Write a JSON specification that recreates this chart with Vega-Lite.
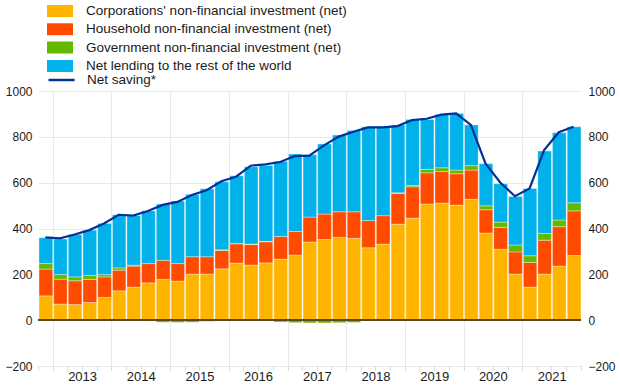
{
  "$schema": "https://vega.github.io/schema/vega-lite/v6.json",
  "width": 543,
  "height": 275,
  "autosize": {"type": "none"},
  "padding": {"left": 38, "top": 91, "right": 39, "bottom": 22},
  "background": "white",
  "config": {
    "font": "Liberation Sans",
    "view": {"stroke": null},
    "axis": {"labelColor": "#1a1a1a", "labelFont": "Liberation Sans"},
    "legend": {"labelFont": "Liberation Sans", "labelColor": "#1a1a1a", "labelLimit": 0}
  },
  "datasets": {
    "d": [
      {"q": "2012-10-01", "a_corp": 106, "b_hh": 117, "c_gov": 24, "d_nl": 113, "ns": 361},
      {"q": "2013-01-01", "a_corp": 70, "b_hh": 109, "c_gov": 20, "d_nl": 155, "ns": 357},
      {"q": "2013-04-01", "a_corp": 68, "b_hh": 104, "c_gov": 17, "d_nl": 185, "ns": 374},
      {"q": "2013-07-01", "a_corp": 77, "b_hh": 101, "c_gov": 17, "d_nl": 198, "ns": 393},
      {"q": "2013-10-01", "a_corp": 99, "b_hh": 90, "c_gov": 10, "d_nl": 223, "ns": 422},
      {"q": "2014-01-01", "a_corp": 128, "b_hh": 90, "c_gov": 10, "d_nl": 232, "ns": 460},
      {"q": "2014-04-01", "a_corp": 144, "b_hh": 92, "c_gov": 4, "d_nl": 216, "ns": 456},
      {"q": "2014-07-01", "a_corp": 163, "b_hh": 84, "c_gov": -4, "d_nl": 230, "ns": 476},
      {"q": "2014-10-01", "a_corp": 178, "b_hh": 83, "c_gov": -9, "d_nl": 246, "ns": 503},
      {"q": "2015-01-01", "a_corp": 170, "b_hh": 77, "c_gov": -10, "d_nl": 273, "ns": 516},
      {"q": "2015-04-01", "a_corp": 201, "b_hh": 76, "c_gov": -9, "d_nl": 272, "ns": 546},
      {"q": "2015-07-01", "a_corp": 201, "b_hh": 76, "c_gov": -5, "d_nl": 296, "ns": 567},
      {"q": "2015-10-01", "a_corp": 224, "b_hh": 80, "c_gov": 3, "d_nl": 297, "ns": 606},
      {"q": "2016-01-01", "a_corp": 249, "b_hh": 84, "c_gov": 2, "d_nl": 295, "ns": 626},
      {"q": "2016-04-01", "a_corp": 240, "b_hh": 90, "c_gov": 2, "d_nl": 338, "ns": 674},
      {"q": "2016-07-01", "a_corp": 250, "b_hh": 92, "c_gov": 2, "d_nl": 331, "ns": 680},
      {"q": "2016-10-01", "a_corp": 266, "b_hh": 99, "c_gov": -8, "d_nl": 328, "ns": 690},
      {"q": "2017-01-01", "a_corp": 284, "b_hh": 103, "c_gov": -11, "d_nl": 338, "ns": 716},
      {"q": "2017-04-01", "a_corp": 341, "b_hh": 109, "c_gov": -12, "d_nl": 272, "ns": 718},
      {"q": "2017-07-01", "a_corp": 352, "b_hh": 111, "c_gov": -12, "d_nl": 306, "ns": 763},
      {"q": "2017-10-01", "a_corp": 361, "b_hh": 112, "c_gov": -11, "d_nl": 335, "ns": 801},
      {"q": "2018-01-01", "a_corp": 357, "b_hh": 116, "c_gov": -10, "d_nl": 355, "ns": 822},
      {"q": "2018-04-01", "a_corp": 316, "b_hh": 119, "c_gov": -3, "d_nl": 409, "ns": 841},
      {"q": "2018-07-01", "a_corp": 332, "b_hh": 124, "c_gov": -3, "d_nl": 388, "ns": 841},
      {"q": "2018-10-01", "a_corp": 419, "b_hh": 134, "c_gov": 3, "d_nl": 296, "ns": 847},
      {"q": "2019-01-01", "a_corp": 445, "b_hh": 137, "c_gov": 6, "d_nl": 288, "ns": 873},
      {"q": "2019-04-01", "a_corp": 507, "b_hh": 136, "c_gov": 15, "d_nl": 218, "ns": 879},
      {"q": "2019-07-01", "a_corp": 511, "b_hh": 138, "c_gov": 16, "d_nl": 233, "ns": 897},
      {"q": "2019-10-01", "a_corp": 502, "b_hh": 137, "c_gov": 16, "d_nl": 247, "ns": 902},
      {"q": "2020-01-01", "a_corp": 527, "b_hh": 128, "c_gov": 19, "d_nl": 178, "ns": 852},
      {"q": "2020-04-01", "a_corp": 380, "b_hh": 102, "c_gov": 17, "d_nl": 184, "ns": 684},
      {"q": "2020-07-01", "a_corp": 309, "b_hh": 96, "c_gov": 23, "d_nl": 167, "ns": 601},
      {"q": "2020-10-01", "a_corp": 201, "b_hh": 97, "c_gov": 30, "d_nl": 212, "ns": 541},
      {"q": "2021-01-01", "a_corp": 144, "b_hh": 108, "c_gov": 29, "d_nl": 294, "ns": 575},
      {"q": "2021-04-01", "a_corp": 201, "b_hh": 148, "c_gov": 29, "d_nl": 360, "ns": 742},
      {"q": "2021-07-01", "a_corp": 236, "b_hh": 172, "c_gov": 29, "d_nl": 381, "ns": 820},
      {"q": "2021-10-01", "a_corp": 282, "b_hh": 195, "c_gov": 35, "d_nl": 332, "ns": 844}
    ]
  },
  "data": {"name": "d"},
  "layer": [
    {
      "transform": [{"fold": ["a_corp", "b_hh", "c_gov", "d_nl"], "as": ["series", "value"]}],
      "mark": {"type": "bar", "stroke": "white", "strokeWidth": 0.8, "strokeOpacity": 0.45},
      "encoding": {
        "x": {
          "field": "q", "type": "temporal", "timeUnit": "utcyearquarter",
          "scale": {"domain": [{"year": 2012, "month": 10, "date": 1, "utc": true}, {"year": 2022, "month": 1, "date": 1, "utc": true}], "nice": false, "padding": 0},
          "axis": {
            "orient": "bottom", "title": null,
            "values": [
              {"year": 2013, "month": 1, "date": 1, "utc": true},
              {"year": 2014, "month": 1, "date": 1, "utc": true},
              {"year": 2015, "month": 1, "date": 1, "utc": true},
              {"year": 2016, "month": 1, "date": 1, "utc": true},
              {"year": 2017, "month": 1, "date": 1, "utc": true},
              {"year": 2018, "month": 1, "date": 1, "utc": true},
              {"year": 2019, "month": 1, "date": 1, "utc": true},
              {"year": 2020, "month": 1, "date": 1, "utc": true},
              {"year": 2021, "month": 1, "date": 1, "utc": true}
            ],
            "format": "%Y", "labelOffset": 29.3, "labelBound": false, "labelOverlap": false, "labelFlush": false,
            "grid": true, "gridColor": "#e9e9e9", "tickColor": "#d9d9d9", "tickSize": 4,
            "domain": false, "labelFontSize": 13, "labelPadding": 0
          }
        },
        "y": {
          "field": "value", "type": "quantitative", "stack": "zero",
          "scale": {"domain": [-200, 1000], "nice": false, "zero": false},
          "axis": {
            "orient": "left", "title": null, "values": [-200, 0, 200, 400, 600, 800, 1000], "format": "d",
            "grid": true, "gridColor": "#e9e9e9", "ticks": false, "domain": false,
            "labelPadding": 6, "labelFontSize": 12
          }
        },
        "fill": {
          "field": "series", "type": "nominal",
          "scale": {"domain": ["a_corp", "b_hh", "c_gov", "d_nl"], "range": ["#FFB400", "#FF4B00", "#65B800", "#00B1EA"]},
          "legend": {
            "orient": "none", "legendX": 9, "legendY": -86.5, "title": null, "padding": 0,
            "symbolType": "M-1,-0.46H1V0.46H-1Z", "symbolSize": 676, "symbolStrokeWidth": 0,
            "labelFontSize": 13.5, "labelOffset": 13, "rowPadding": 4.3, "clipHeight": 13, "labelLimit": 0,
            "labelExpr": "datum.label == 'a_corp' ? \"Corporations' non-financial investment (net)\" : datum.label == 'b_hh' ? 'Household non-financial investment (net)' : datum.label == 'c_gov' ? 'Government non-financial investment (net)' : 'Net lending to the rest of the world'"
          }
        },
        "order": {"field": "series", "sort": "ascending"}
      }
    },
    {
      "mark": {"type": "line", "strokeWidth": 2.2},
      "encoding": {
        "x": {
          "field": "q", "type": "temporal", "timeUnit": "utcyearquarter", "bandPosition": 0.5,
          "axis": {
            "orient": "bottom", "title": null, "tickCount": {"interval": "month", "step": 3},
            "labels": false, "grid": false, "domain": false, "tickSize": 4, "tickColor": "#d9d9d9"
          }
        },
        "y": {
          "field": "ns", "type": "quantitative",
          "axis": {
            "orient": "right", "title": null, "values": [-200, 0, 200, 400, 600, 800, 1000], "format": "d",
            "grid": false, "ticks": false, "domain": false, "labelPadding": 7, "labelFontSize": 12
          }
        },
        "stroke": {
          "datum": "Net saving*", "type": "nominal",
          "scale": {"range": ["#003299"]},
          "legend": {
            "orient": "none", "legendX": 9, "legendY": -17.5, "title": null, "padding": 0,
            "symbolType": "stroke", "symbolSize": 676, "symbolStrokeWidth": 2.5, "clipHeight": 13,
            "labelFontSize": 13.5, "labelOffset": 11, "labelLimit": 0
          }
        }
      }
    },
    {
      "mark": {"type": "rule", "color": "#5b4a22", "strokeWidth": 1},
      "encoding": {"y": {"datum": 0, "axis": null}}
    }
  ],
  "resolve": {"axis": {"x": "independent", "y": "independent"}}
}
